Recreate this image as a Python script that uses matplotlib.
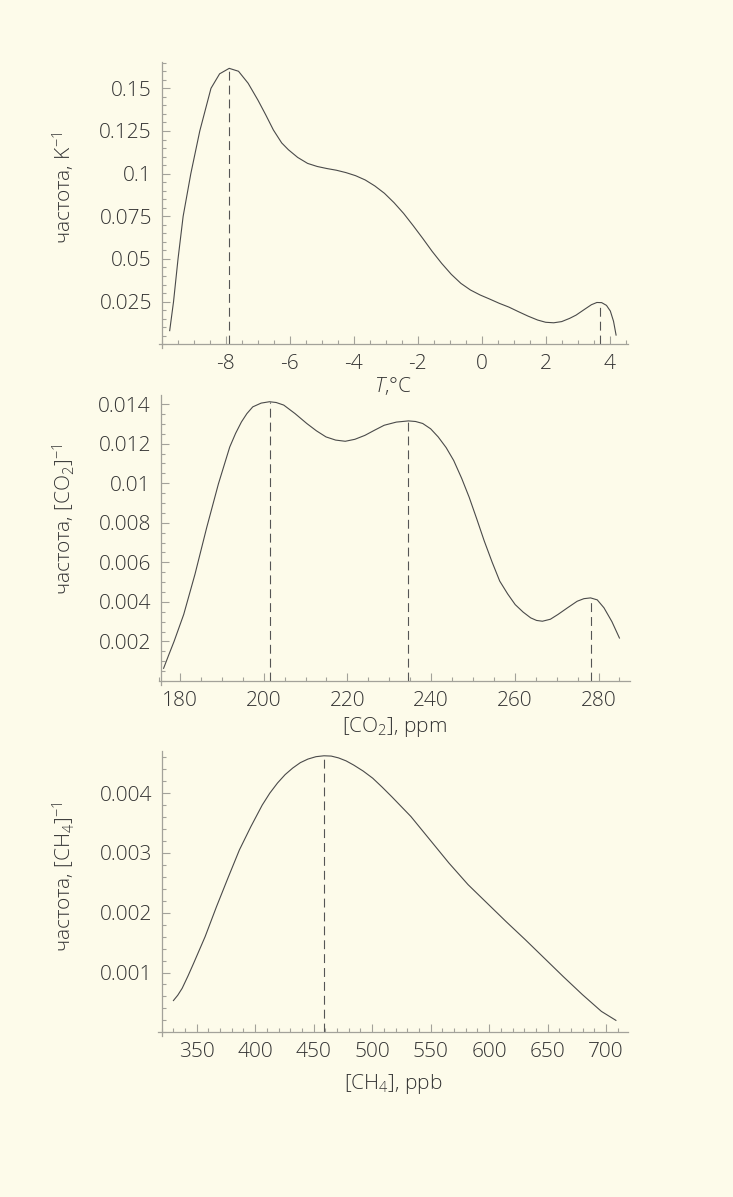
import matplotlib
matplotlib.use("Agg")
import matplotlib.pyplot as plt
from matplotlib.ticker import MultipleLocator, FuncFormatter

plt.rcParams['font.family'] = ['Open Sans', 'DejaVu Sans']
plt.rcParams['font.weight'] = 'light'
plt.rcParams['axes.labelweight'] = 'light'
plt.rcParams['mathtext.fontset'] = 'custom'
plt.rcParams['mathtext.rm'] = 'Open Sans:light'
plt.rcParams['mathtext.it'] = 'Open Sans:italic:light'
plt.rcParams['axes.unicode_minus'] = False

# temperature distribution
t_x = [-9.75, -9.63, -9.49, -9.33, -9.09, -8.81, -8.46, -8.19, -7.89, -7.6, -7.3,
       -6.99, -6.75, -6.51, -6.25, -6.04, -5.75, -5.44, -5.14, -4.84, -4.54, -4.24,
       -3.94, -3.64, -3.34, -3.04, -2.74, -2.44, -2.14, -1.84, -1.55, -1.25, -0.95,
       -0.65, -0.35, -0.05, 0.25, 0.55, 0.85, 1.15, 1.45, 1.75, 2.0, 2.25, 2.5, 2.75,
       2.95, 3.2, 3.43, 3.6, 3.75, 3.9, 4.02, 4.12, 4.2]
t_y = [0.008, 0.025, 0.05, 0.075, 0.1, 0.125, 0.15, 0.1585, 0.1617, 0.16, 0.153,
       0.143, 0.1345, 0.1256, 0.118, 0.114, 0.1095, 0.106, 0.1042, 0.103, 0.102, 0.1006,
       0.0988, 0.0963, 0.0928, 0.0885, 0.083, 0.0767, 0.0695, 0.062, 0.0545, 0.0474, 0.041,
       0.0357, 0.0318, 0.0289, 0.0265, 0.024, 0.0218, 0.0191, 0.0165, 0.0142, 0.0129, 0.0126,
       0.0133, 0.0152, 0.0171, 0.0203, 0.0232, 0.0245, 0.0244, 0.0228, 0.0195, 0.0135, 0.0054]
t_peaks = [-7.89, 3.69]
t_peak_vals = [0.1617, 0.0246]

# CO2 distribution
co2_x = [176.1, 177.3, 178.6, 180.9, 183.6, 186.4, 189.2, 191.9, 193.3, 194.7, 196.0,
         197.4, 199.4, 201.4, 203.0, 204.8, 207.5, 210.3, 212.6, 214.9, 217.2, 219.5,
         221.8, 224.2, 226.5, 228.8, 231.7, 234.6, 236.3, 238.0, 239.9, 241.7, 243.6,
         245.4, 247.3, 249.1, 250.9, 252.7, 254.6, 256.4, 258.3, 260.1, 262.0, 263.8,
         265.2, 266.6, 268.5, 270.3, 272.6, 274.9, 276.5, 278.1, 279.7, 281.3, 283.2, 285.0]
co2_y = [0.00064, 0.0013, 0.002, 0.00336, 0.0054, 0.00776, 0.00997, 0.01183, 0.01252,
         0.0131, 0.01352, 0.01386, 0.01405, 0.01412, 0.01408, 0.01395, 0.01352, 0.01302,
         0.01265, 0.01234, 0.01218, 0.01212, 0.01222, 0.01242, 0.01268, 0.01293, 0.01309,
         0.01315, 0.01312, 0.01302, 0.01275, 0.01234, 0.0118, 0.01115, 0.01025, 0.00929,
         0.0082, 0.00708, 0.006, 0.00505, 0.0044, 0.00386, 0.00348, 0.00319, 0.00306,
         0.00302, 0.00312, 0.00336, 0.0037, 0.00403, 0.00416, 0.0042, 0.0041, 0.0037,
         0.003, 0.00217]
co2_peaks = [201.4, 234.6, 278.1]
co2_peak_vals = [0.01412, 0.01315, 0.0042]

# CH4 distribution
ch4_x = [330.1, 333.8, 337.6, 342.5, 347.4, 357.2, 366.9, 376.7, 386.5, 396.3, 406.0,
         412.5, 419.1, 425.6, 432.1, 438.6, 445.1, 452.0, 458.8, 465.0, 471.2, 477.7,
         484.2, 492.3, 500.5, 508.6, 516.8, 533.1, 549.4, 565.7, 582.0, 598.3, 614.6,
         630.9, 647.2, 663.5, 679.8, 696.0, 708.4]
ch4_y = [0.000531, 0.00062, 0.000737, 0.00094, 0.001156, 0.0016, 0.0021, 0.00258, 0.00305,
         0.00344, 0.0038, 0.004, 0.00417, 0.00431, 0.00442, 0.00451, 0.00457, 0.00461,
         0.004625, 0.00462, 0.00459, 0.00454, 0.00447, 0.00437, 0.00425, 0.0041, 0.00394,
         0.00361, 0.00322, 0.00283, 0.00247, 0.00216, 0.00185, 0.00155, 0.00124, 0.00093,
         0.00063, 0.00035, 0.0002]
ch4_peaks = [458.8]
ch4_peak_vals = [0.004625]

bg = '#fdfbea'
axis_col = '#a3a29a'
text_col = '#333333'
line_col = '#4a4a4a'

W, H = 733, 1197
fig = plt.figure(figsize=(W / 100, H / 100), dpi=100, facecolor=bg)


def panel(rect_px, x, y, peaks, peak_vals, xlim, ylim, x0, xmaj, xmin, ymaj, ymin,
          xlabel, ylabel, ylab_y, xpad):
    l, t, r, b = rect_px
    ax = fig.add_axes([l / W, 1 - b / H, (r - l) / W, (b - t) / H])
    ax.set_facecolor(bg)
    ax.plot(x, y, color=line_col, lw=0.8)
    ax.vlines(peaks, 0, peak_vals, colors='#555555', lw=0.8, linestyles=(0, (8, 4.5)))
    ax.set_xlim(*xlim)
    ax.set_ylim(*ylim)
    for s in ['top', 'right']:
        ax.spines[s].set_visible(False)
    ax.spines['left'].set_position(('data', x0))
    ax.spines['bottom'].set_position(('data', 0))
    for s in ['left', 'bottom']:
        ax.spines[s].set_color(axis_col)
        ax.spines[s].set_linewidth(0.9)
    ax.xaxis.set_major_locator(MultipleLocator(xmaj))
    ax.xaxis.set_minor_locator(MultipleLocator(xmin))
    ax.yaxis.set_major_locator(MultipleLocator(ymaj))
    ax.yaxis.set_minor_locator(MultipleLocator(ymin))
    ax.xaxis.set_major_formatter(FuncFormatter(lambda v, p: '%g' % round(v, 6)))
    ax.yaxis.set_major_formatter(FuncFormatter(lambda v, p: '%g' % round(v, 6)))
    ax.tick_params(which='both', direction='in', color=axis_col, width=0.8,
                   labelcolor=text_col, labelsize=15)
    ax.tick_params(which='major', length=6, pad=7)
    ax.tick_params(which='minor', length=3)
    ax.set_xlabel(xlabel, fontsize=15, color=text_col, labelpad=xpad)
    ax.set_ylabel(ylabel, fontsize=15, color=text_col)
    ax.yaxis.set_label_coords(-(l - 77) / (r - l), ylab_y)
    # keep only tick labels inside the shown range
    xt = [v for v in ax.get_xticks() if xlim[0] + 0.1 * xmaj < v <= xlim[1]]
    ax.set_xticks(xt)
    yt = [v for v in ax.get_yticks() if 0 < v <= ylim[1]]
    ax.set_yticks(yt)
    return ax


panel((158.5, 61.7, 627.6, 347.7), t_x, t_y, t_peaks, t_peak_vals,
      (-10.1, 4.56), (-0.002, 0.1656), -10.0, 2, 0.5, 0.025, 0.005,
      '$T$,°C', 'частота, K$^{-1}$', 0.56, 1)

panel((159.0, 395.0, 629.9, 684.9), co2_x, co2_y, co2_peaks, co2_peak_vals,
      (175.0, 287.5), (-0.0002, 0.01446), 175.4, 20, 5, 0.002, 0.0005,
      '[CO$_2$], ppm', 'частота, [CO$_2$]$^{-1}$', 0.57, 3)

panel((158.1, 750.7, 628.3, 1035.9), ch4_x, ch4_y, ch4_peaks, ch4_peak_vals,
      (317.0, 719.0), (-0.00006, 0.00471), 320.1, 50, 10, 0.001, 0.0002,
      '[CH$_4$], ppb', 'частота, [CH$_4$]$^{-1}$', 0.56, 7)

fig.savefig('out.png', dpi=100, facecolor=bg)
